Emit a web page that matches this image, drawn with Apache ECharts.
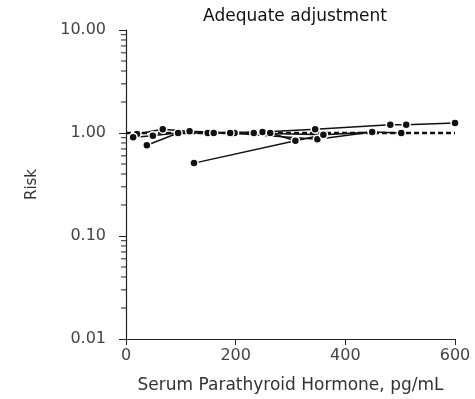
<!DOCTYPE html>
<html><head><meta charset="utf-8">
<script src="https://cdn.jsdelivr.net/npm/echarts@6/dist/echarts.min.js"></script>
<style>html,body{margin:0;padding:0;background:#fff}#c{width:475px;height:399px}</style>
</head><body><div id="c"></div>
<script>
var titleText = 'Adequate adjustment';
var xName = 'Serum Parathyroid Hormone, pg/mL';
var yName = 'Risk';
var xTicks = [0, 200, 400, 600];
var yTicks = [0.01, 0.1, 1, 10];
var yMinorTicks = [0.02,0.03,0.04,0.05,0.06,0.07,0.08,0.09,0.2,0.3,0.4,0.5,0.6,0.7,0.8,0.9,2,3,4,5,6,7,8,9];
var refLine = [[0, 1], [600, 1]];
var study1 = [[20,0.98],[67,1.09],[149,1.0],[249,1.02],[345,1.09],[482,1.2],[511,1.2],[600,1.25]];
var study2 = [[13,0.91],[49,0.94],[116,1.04],[198,1.0],[233,1.0],[360,0.96],[449,1.02],[502,1.0]];
var study3 = [[38,0.76],[95,1.0],[190,1.0],[349,0.87],[449,1.02]];
var study4 = [[124,0.51],[309,0.84],[360,0.96]];
var study5 = [[160,1.0],[263,1.0],[309,0.84]];

var FONT = 'DejaVu Sans';
var chart = echarts.init(document.getElementById('c'));
function studySeries(d){
  return {type:'line', data:d, symbol:'circle', symbolSize:8, z:3,
    lineStyle:{color:'#111', width:1.5},
    itemStyle:{color:'#111', borderColor:'#fff', borderWidth:1.5}};
}
chart.setOption({
  animation:false,
  textStyle:{fontFamily:FONT},
  title:{text:titleText, left:290, textAlign:'center', top:3,
    textStyle:{fontSize:17, fontWeight:'normal', color:'#111', fontFamily:FONT}},
  grid:{left:126, right:20, top:30, bottom:60},
  xAxis:{type:'value', min:xTicks[0], max:xTicks[xTicks.length-1], interval:200,
    name:xName, nameLocation:'middle', nameGap:38,
    nameTextStyle:{fontSize:17, color:'#333', fontFamily:FONT},
    axisLine:{lineStyle:{color:'#222', width:1.2}},
    axisTick:{length:6, lineStyle:{color:'#222'}},
    axisLabel:{fontSize:16, color:'#444', margin:9, fontFamily:FONT},
    splitLine:{show:false}},
  yAxis:{type:'log', logBase:10, min:yTicks[0], max:yTicks[yTicks.length-1],
    name:yName, nameLocation:'middle', nameGap:86,
    nameTextStyle:{fontSize:15, color:'#333', fontFamily:FONT},
    axisLine:{lineStyle:{color:'#222', width:1.2}},
    axisTick:{length:7, lineStyle:{color:'#222'}},
    axisLabel:{fontSize:16, color:'#444', margin:20, fontFamily:FONT,
      formatter:function(v){return Number(v).toFixed(2);}},
    splitLine:{show:false}},
  series:[
    {type:'custom', clip:false, silent:true, z:2,
     data:yMinorTicks.map(function(v){return [0, v];}),
     renderItem:function(params, api){
       var p = api.coord([api.value(0), api.value(1)]);
       return {type:'line', shape:{x1:p[0]-5, y1:p[1], x2:p[0], y2:p[1]},
         style:{stroke:'#222', lineWidth:1}};
     }},
    {type:'line', data:refLine, symbol:'none', z:2,
     lineStyle:{color:'#111', width:2.5, type:[5,3]}},
    studySeries(study1), studySeries(study2), studySeries(study3),
    studySeries(study4), studySeries(study5)
  ]
});
</script></body></html>
